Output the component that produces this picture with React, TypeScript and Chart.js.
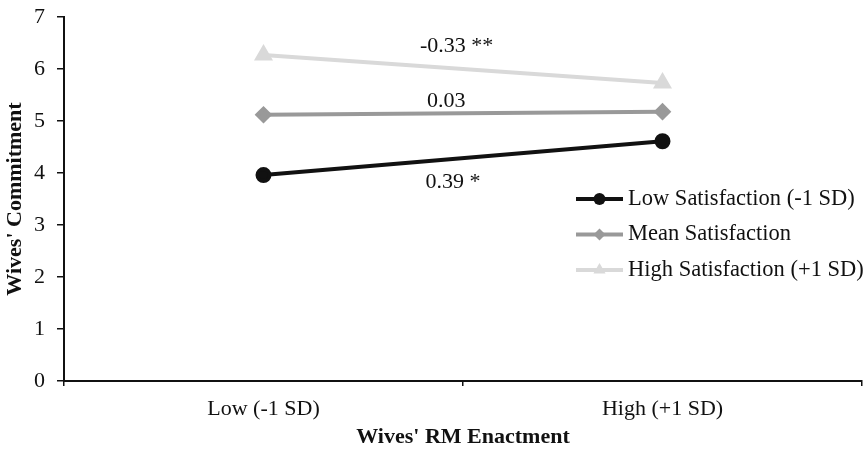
import React, { useEffect, useRef } from "react";
import { Chart, registerables } from "chart.js";

Chart.register(...registerables);

const categories = ["Low (-1 SD)", "High (+1 SD)"];
const seriesNames = ["Low Satisfaction (-1 SD)", "Mean Satisfaction", "High Satisfaction (+1 SD)"];
const lowSatisfaction = [3.96, 4.61];
const meanSatisfaction = [5.12, 5.18];
const highSatisfaction = [6.27, 5.73];
const slopeLabels = ["-0.33 **", "0.03", "0.39 *"];
const slopeLabelX = [0.484, 0.458, 0.475];
const slopeLabelY = [6.44, 5.38, 3.83];
const yTicks = [0, 1, 2, 3, 4, 5, 6, 7];

const FONT = "'Liberation Serif', 'Times New Roman', serif";

function drawMarker(ctx: CanvasRenderingContext2D, style: string, x: number, y: number, r: number) {
  ctx.beginPath();
  if (style === "circle") {
    ctx.arc(x, y, r, 0, Math.PI * 2);
  } else if (style === "rectRot") {
    ctx.moveTo(x, y - r);
    ctx.lineTo(x + r, y);
    ctx.lineTo(x, y + r);
    ctx.lineTo(x - r, y);
    ctx.closePath();
  } else {
    ctx.moveTo(x, y - r);
    ctx.lineTo(x + r * 0.87, y + r * 0.5);
    ctx.lineTo(x - r * 0.87, y + r * 0.5);
    ctx.closePath();
  }
  ctx.fill();
}

const annotationPlugin = {
  id: "slopeNotes",
  afterDatasetsDraw(chart: any) {
    const { ctx, scales } = chart;
    ctx.save();
    ctx.font = `22px ${FONT}`;
    ctx.fillStyle = "#111";
    ctx.textAlign = "center";
    ctx.textBaseline = "middle";
    slopeLabels.forEach((t, i) => {
      ctx.fillText(t, scales.x.getPixelForValue(slopeLabelX[i]), scales.y.getPixelForValue(slopeLabelY[i]));
    });
    ctx.restore();
  },
};

const legendPlugin = {
  id: "customLegend",
  afterDraw(chart: any) {
    const { ctx, chartArea } = chart;
    const x0 = chartArea.right - 286;
    const y0 = chartArea.top + 182;
    const rowH = 35.5;
    ctx.save();
    chart.data.datasets.forEach((ds: any, i: number) => {
      const y = y0 + i * rowH;
      ctx.strokeStyle = ds.borderColor;
      ctx.lineWidth = ds.borderWidth;
      ctx.beginPath();
      ctx.moveTo(x0, y);
      ctx.lineTo(x0 + 47, y);
      ctx.stroke();
      ctx.fillStyle = ds.pointBackgroundColor;
      drawMarker(ctx, ds.pointStyle, x0 + 23.5, y, ds.pointRadius);
      ctx.fillStyle = "#111";
      ctx.font = `22.5px ${FONT}`;
      ctx.textAlign = "left";
      ctx.textBaseline = "middle";
      ctx.fillText(ds.label, x0 + 52, y);
    });
    ctx.restore();
  },
};

export default function App() {
  const ref = useRef<HTMLCanvasElement>(null);
  useEffect(() => {
    document.body.style.margin = "0";
    const chart = new Chart(ref.current!, {
      type: "line",
      data: {
        labels: categories,
        datasets: [
          {
            label: seriesNames[0],
            data: lowSatisfaction,
            borderColor: "#111111",
            backgroundColor: "#111111",
            pointBackgroundColor: "#111111",
            pointBorderColor: "#111111",
            borderWidth: 4,
            pointStyle: "circle",
            pointRadius: 6,
          },
          {
            label: seriesNames[1],
            data: meanSatisfaction,
            borderColor: "#999999",
            backgroundColor: "#999999",
            pointBackgroundColor: "#999999",
            pointBorderColor: "#999999",
            borderWidth: 4,
            pointStyle: "rectRot",
            pointRadius: 6,
          },
          {
            label: seriesNames[2],
            data: highSatisfaction,
            borderColor: "#d9d9d9",
            backgroundColor: "#d9d9d9",
            pointBackgroundColor: "#d9d9d9",
            pointBorderColor: "#d9d9d9",
            borderWidth: 4,
            pointStyle: "triangle",
            pointRadius: 7,
          },
        ] as any,
      },
      options: {
        animation: false,
        responsive: false,
        maintainAspectRatio: false,
        layout: { autoPadding: false, padding: { top: 17, right: 4, left: 0, bottom: 0 } },
        plugins: { legend: { display: false }, tooltip: { enabled: false } },
        scales: {
          x: {
            type: "category",
            offset: true,
            grid: {
              offset: true,
              drawOnChartArea: false,
              drawTicks: true,
              tickLength: 5,
              color: "#111",
              lineWidth: 1.5,
            },
            border: { display: true, color: "#111", width: 2 },
            ticks: { font: { family: FONT, size: 22 }, color: "#111", padding: 10, maxRotation: 0 },
            title: {
              display: true,
              text: "Wives' RM Enactment",
              font: { family: FONT, size: 22, weight: "bold" },
              color: "#111",
              padding: { top: 0, bottom: 4 },
            },
            afterFit: (s: any) => {
              s.height = 74;
              s.paddingLeft = 0;
              s.paddingRight = 0;
            },
          },
          y: {
            min: 0,
            max: 7,
            afterBuildTicks: (s: any) => {
              s.ticks = yTicks.map((v) => ({ value: v }));
            },
            grid: {
              drawOnChartArea: false,
              drawTicks: true,
              tickLength: 7,
              color: "#111",
              lineWidth: 1.5,
            },
            border: { display: true, color: "#111", width: 2 },
            ticks: { font: { family: FONT, size: 22 }, color: "#111", padding: 12 },
            title: {
              display: true,
              text: "Wives' Commitment",
              font: { family: FONT, size: 22, weight: "bold" },
              color: "#111",
              padding: { top: 2, bottom: 0 },
            },
            afterFit: (s: any) => {
              s.width = 64;
              s.paddingTop = 0;
              s.paddingBottom = 0;
            },
          },
        },
      } as any,
      plugins: [annotationPlugin, legendPlugin],
    });
    return () => chart.destroy();
  }, []);
  return (
    <div style={{ width: 866, height: 455, background: "#fff" }}>
      <canvas ref={ref} width={866} height={455} style={{ display: "block" }} />
    </div>
  );
}
